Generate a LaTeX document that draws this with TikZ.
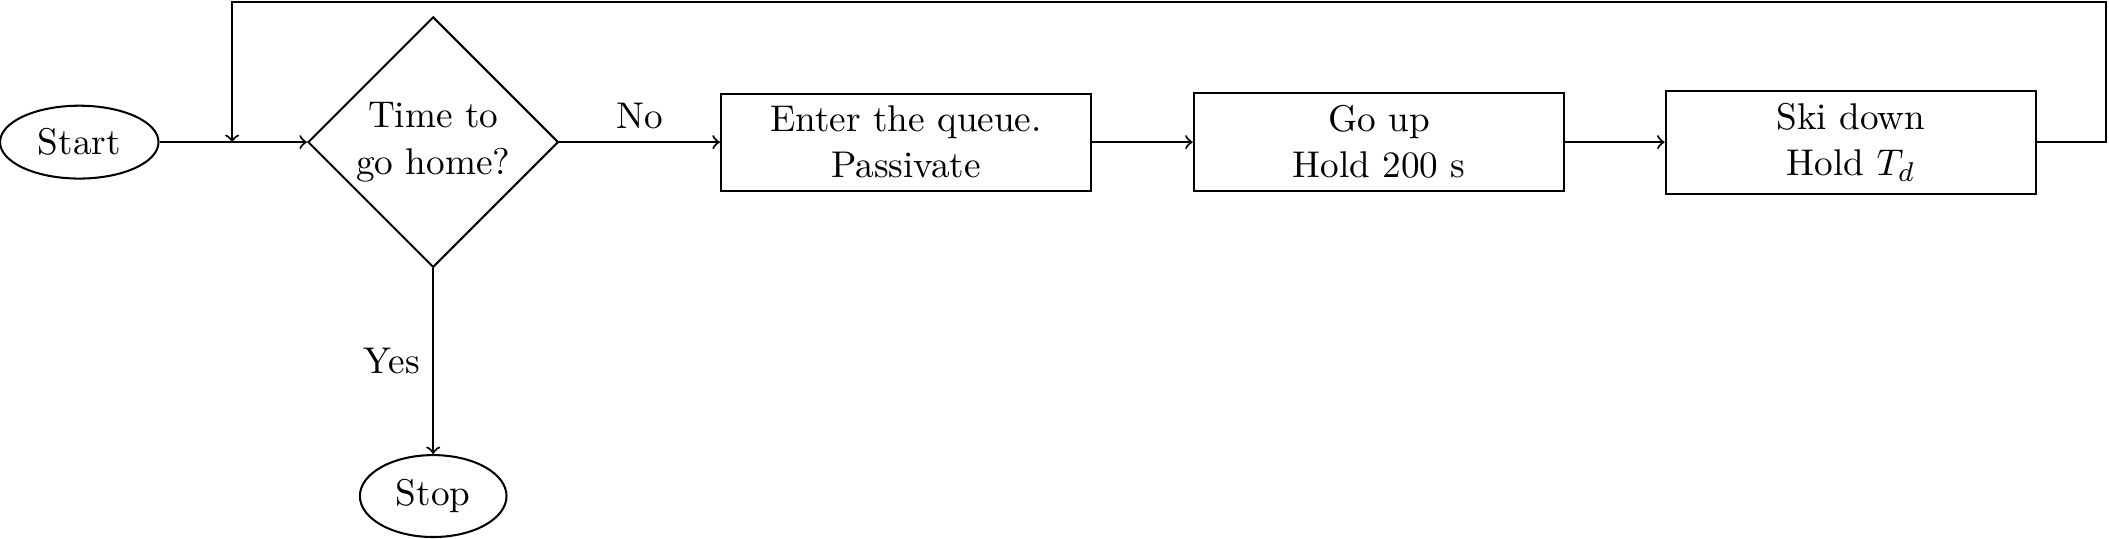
\documentclass[11pt,tikz,border=0pt]{standalone}
\usetikzlibrary{shapes.geometric}
\begin{document}
\begin{tikzpicture}[>=to,semithick,
  term/.style={draw,ellipse,inner xsep=4.3pt,inner ysep=3.6pt},
  decision/.style={draw,diamond,aspect=1,inner sep=0pt,minimum size=2.59cm,align=center},
  process/.style={draw,rectangle,align=center,minimum width=3.83cm,inner ysep=3.6pt}]
\useasboundingbox (0,0) rectangle (21.81,-5.574);
%nodes
\node[term] (start) at (0.82,-1.47) {Start};
\node[decision] (home) at (4.48,-1.47) {Time to\\go home?};
\node[process] (queue) at (9.37,-1.47) {Enter the queue.\\Passivate};
\node[process] (up) at (14.26,-1.47) {Go up\\Hold 200 s};
\node[process] (down) at (19.14,-1.47) {Ski down\\Hold $T_d$};
\node[term] (stop) at (4.48,-5.13) {Stop};
\coordinate (back) at (2.40,-1.47);
\coordinate (corner) at (21.78,-0.02);
%arrows
\draw[->] (start) -- (home);
\draw[->] (home) -- node[above]{No} (queue);
\draw[->] (queue) -- (up);
\draw[->] (up) -- (down);
\draw[->] (home) -- node[left]{Yes} (stop);
\draw[->] (down.east) -| (corner) -| (back);
\end{tikzpicture}
\end{document}
